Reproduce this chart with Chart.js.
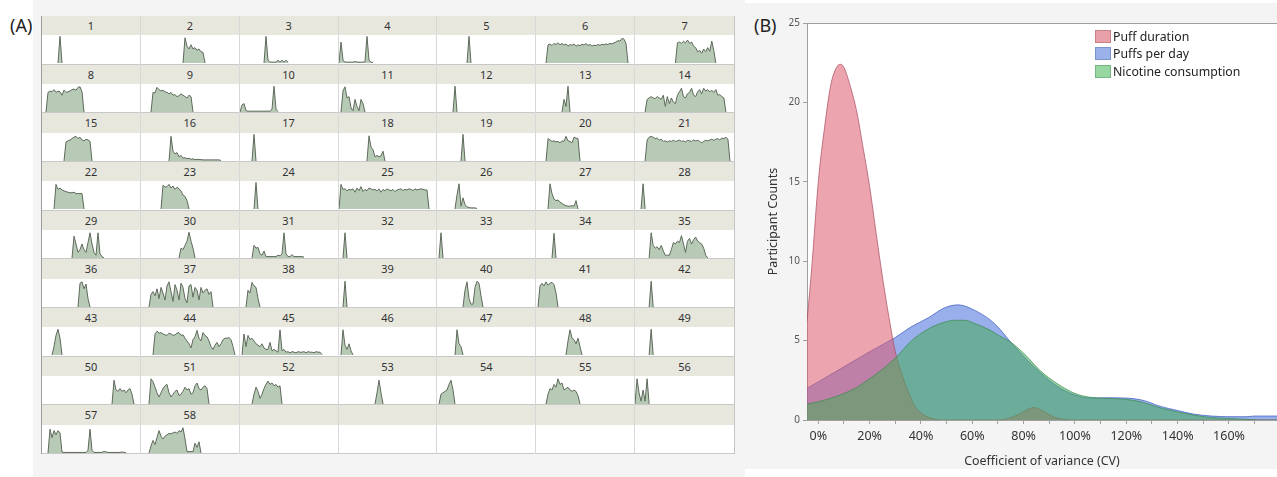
<!DOCTYPE html>
<html>
<head>
<meta charset="utf-8">
<script src="https://cdn.jsdelivr.net/npm/chart.js@4.4.1/dist/chart.umd.min.js"></script>
<style>
    body { margin: 0; width: 1277px; height: 477px; background: #fff; position: relative; overflow: hidden; font-family: "Noto Sans", sans-serif; }
    #panelA { position: absolute; left: 33px; top: 0; width: 712px; height: 477px; background: #f4f4f4; }
    #panelB { position: absolute; left: 745px; top: 3px; width: 532px; height: 466px; background: #f4f4f4; }
    .tag { position: absolute; font-size: 18px; line-height: 18px; color: #222; }
    #grid { position: absolute; left: 41px; top: 16px; width: 694px; height: 438px; display: grid;
            grid-template-columns: repeat(7, 1fr); grid-template-rows: repeat(9, 1fr);
            border-left: 1px solid #9c9c9c; border-right: 1px solid #c4c4c4; box-sizing: border-box; }
    .cell { display: flex; flex-direction: column; border-right: 1px solid #d8d8d8; min-width: 0; }
    .cell:nth-child(7n) { border-right: none; }
    .head { height: 19.3px; flex: none; background: #e7e7de; font-size: 11px; color: #333; text-align: center; line-height: 19.3px; }
    .plot { flex: 1; background: #fff; position: relative; border-bottom: 1px solid #c8c8c8; }
    .plot canvas { position: absolute; left: 0; top: 0; }
    #chartB { position: absolute; left: 745px; top: 3px; }
    #legend { position: absolute; left: 1095px; top: 28px; font-size: 12.3px; color: #222; }
    .item { height: 17.3px; display: flex; align-items: center; white-space: nowrap; }
    .sw { width: 16px; height: 13px; margin-right: 2px; box-sizing: border-box; border: 1px solid; }
</style>
</head>
<body>
<div id="panelA"></div>
<div id="panelB"></div>
<div class="tag" style="left:10px; top:16px;">(A)</div>
<div class="tag" style="left:754px; top:16px;">(B)</div>
<div id="grid"></div>
<canvas id="chartB" width="532" height="466"></canvas>
<div id="legend"></div>
<script>
// (A) per-participant sparklines: start step and values (fraction of cell height)
const participantIds = ['1','2','3','4','5','6','7','8','9','10','11','12','13','14','15','16','17','18','19','20',
    '21','22','23','24','25','26','27','28','29','30','31','32','33','34','35','36','37','38','39','40',
    '41','42','43','44','45','46','47','48','49','50','51','52','53','54','55','56','57','58'];

const sparkStart = [8, 21, 12, 0, 15, 5, 20, 2, 5, 0, 1, 8, 13, 5, 11, 14, 6, 14, 12, 5,
    5, 6, 10, 7, 0, 9, 6, 3, 15, 19, 6, 2, 1, 8, 7, 18, 4, 3, 2, 13,
    1, 7, 5, 6, 1, 1, 9, 15, 7, 35, 4, 6, 18, 1, 5, 0, 3, 4];

const sparkShape = [
    [0, 0.95, 0],
    [0, 0.9, 0.6, 0.5, 0.65, 0.5, 0.55, 0.45, 0.5, 0.4, 0.38, 0],
    [0, 0.95, 0.1, 0.03, 0.03, 0.03, 0.03, 0.1, 0.03, 0.1, 0.03, 0.1, 0.02],
    [0, 0.75, 0.1, 0.03, 0.03, 0.03, 0.03, 0.03, 0.05, 0.03, 0.03, 0.03, 0.03, 0.05, 0.95, 0.1, 0.03, 0.02],
    [0, 0.95, 0],
    [0, 0.65, 0.68, 0.62, 0.7, 0.66, 0.72, 0.65, 0.7, 0.64, 0.68, 0.6, 0.66, 0.63, 0.68, 0.6, 0.65, 0.62, 0.67, 0.64, 0.69,
        0.63, 0.66, 0.6, 0.64, 0.62, 0.66, 0.63, 0.67, 0.65, 0.68, 0.66, 0.7, 0.68, 0.72, 0.75, 0.8, 0.78, 0.88, 0.85, 0.7, 0],
    [0, 0.72, 0.75, 0.7, 0.78, 0.72, 0.82, 0.7, 0.75, 0.6, 0.55, 0.4, 0.45, 0.35, 0.5, 0.4, 0.55, 0.42, 0.78, 0.45, 0],
    [0, 0.7, 0.75, 0.72, 0.8, 0.7, 0.75, 0.72, 0.6, 0.78, 0.7, 0.72, 0.75, 0.8, 0.82, 0.78, 0.88, 0.9, 0.72, 0],
    [0, 0.7, 0.68, 0.88, 0.8, 0.75, 0.78, 0.72, 0.7, 0.65, 0.7, 0.6, 0.62, 0.55, 0.58, 0.65, 0.6, 0.55, 0.5, 0.6, 0.55, 0],
    [0, 0.25, 0.3, 0.05, 0.03, 0.03, 0.03, 0.03, 0.03, 0.03, 0.03, 0.03, 0.03, 0.03, 0.03, 0.03, 0.1, 0.92, 0.1, 0.02],
    [0, 0.75, 0.9, 0.5, 0.55, 0.15, 0.05, 0.45, 0.2, 0.05, 0.45, 0.3, 0],
    [0, 0.92, 0],
    [0, 0.45, 0.2, 0.92, 0],
    [0, 0.45, 0.5, 0.55, 0.5, 0.48, 0.55, 0.5, 0.45, 0.6, 0.2, 0.55, 0.3, 0.5, 0.35, 0.3, 0.6, 0.72, 0.85, 0.55, 0.5,
        0.65, 0.7, 0.85, 0.6, 0.55, 0.72, 0.8, 0.65, 0.85, 0.75, 0.8, 0.72, 0.78, 0.7, 0.8, 0.6, 0.62, 0.55, 0.5, 0],
    [0, 0.68, 0.72, 0.75, 0.8, 0.85, 0.88, 0.8, 0.85, 0.75, 0.72, 0.78, 0.75, 0.7, 0],
    [0, 0.88, 0.35, 0.25, 0.3, 0.15, 0.2, 0.1, 0.12, 0.08, 0.1, 0.06, 0.08, 0.05, 0.06, 0.05, 0.05, 0.04, 0.04, 0.04,
        0.04, 0.04, 0.04, 0.04, 0.04, 0.04, 0.02],
    [0, 0.95, 0],
    [0, 0.9, 0.5, 0.4, 0.15, 0.2, 0.15, 0.18, 0.35, 0],
    [0, 0.95, 0],
    [0, 0.8, 0.75, 0.7, 0.72, 0.68, 0.7, 0.65, 0.72, 0.7, 0.88, 0.72, 0.7, 0.65, 0.85, 0.82, 0.8, 0],
    [0, 0.75, 0.85, 0.88, 0.85, 0.8, 0.82, 0.75, 0.78, 0.7, 0.72, 0.68, 0.72, 0.7, 0.74, 0.7, 0.72, 0.75, 0.7, 0.72,
        0.68, 0.74, 0.72, 0.7, 0.75, 0.72, 0.74, 0.7, 0.65, 0.7, 0.74, 0.72, 0.75, 0.78, 0.74, 0.78, 0.8, 0.75, 0.82, 0.8, 0.85, 0.78, 0],
    [0, 0.88, 0.7, 0.75, 0.68, 0.65, 0.62, 0.6, 0.58, 0.58, 0.6, 0.55, 0.55, 0.55, 0.55, 0],
    [0, 0.85, 0.78, 0.8, 0.88, 0.75, 0.82, 0.7, 0.78, 0.72, 0.65, 0.5, 0.45, 0.3, 0],
    [0, 0.95, 0],
    [0, 0.88, 0.7, 0.72, 0.65, 0.7, 0.68, 0.72, 0.6, 0.75, 0.65, 0.8, 0.62, 0.7, 0.65, 0.75, 0.72, 0.68, 0.7, 0.65,
        0.72, 0.6, 0.7, 0.65, 0.72, 0.68, 0.65, 0.7, 0.62, 0.68, 0.7, 0.72, 0.66, 0.7, 0.68, 0.72, 0.7, 0.66, 0.72, 0.68,
        0.7, 0.72, 0.7, 0.68, 0.68, 0],
    [0, 0.5, 0.9, 0.1, 0.4, 0.15, 0.08, 0.05, 0.04, 0.04, 0.04, 0.02],
    [0, 0.9, 0.55, 0.35, 0.3, 0.32, 0.25, 0.2, 0.15, 0.12, 0.1, 0.1, 0.12, 0.1, 0.3, 0],
    [0, 0.9, 0],
    [0, 0.78, 0.5, 0.2, 0.3, 0.5, 0.3, 0.2, 0.55, 0.9, 0.5, 0.2, 0.1, 0.9, 0.15, 0.05, 0],
    [0, 0.35, 0.3, 0.45, 0.6, 0.92, 0.6, 0.35, 0],
    [0, 0.45, 0.35, 0.38, 0.15, 0.1, 0.25, 0.05, 0.05, 0.05, 0.05, 0.05, 0.05, 0.1, 0.08, 0.15, 0.9, 0.15, 0.05, 0.05,
        0.12, 0.05, 0.05, 0.05, 0.05, 0.05, 0.03],
    [0, 0.9, 0],
    [0, 0.9, 0],
    [0, 0.88, 0],
    [0, 0.9, 0.45, 0.35, 0.4, 0.3, 0.45, 0.25, 0.1, 0.1, 0.1, 0.3, 0.55, 0.5, 0.6, 0.55, 0.8, 0.5, 0.2, 0.6,
        0.7, 0.5, 0.65, 0.75, 0.6, 0.55, 0.5, 0.35, 0.1, 0],
    [0, 0.85, 0.9, 0.65, 0.82, 0.3, 0],
    [0, 0.45, 0.55, 0.4, 0.65, 0.3, 0.7, 0.5, 0.25, 0.75, 0.9, 0.55, 0.2, 0.8, 0.6, 0.25, 0.85, 0.7, 0.3, 0.15,
        0.75, 0.8, 0.35, 0.7, 0.6, 0.25, 0.7, 0.5, 0.6, 0.65, 0.45, 0.55, 0],
    [0, 0.6, 0.5, 0.88, 0.75, 0.7, 0.3, 0],
    [0, 0.92, 0],
    [0, 0.6, 0.9, 0.3, 0.1, 0.1, 0.7, 0.92, 0.85, 0.4, 0],
    [0, 0.75, 0.85, 0.75, 0.9, 0.78, 0.85, 0.88, 0.8, 0.5, 0],
    [0, 0.92, 0],
    [0, 0.3, 0.7, 0.92, 0.6, 0],
    [0, 0.75, 0.85, 0.78, 0.8, 0.75, 0.72, 0.7, 0.78, 0.75, 0.7, 0.72, 0.78, 0.8, 0.7, 0.72, 0.6, 0.5, 0.4, 0.25,
        0.55, 0.65, 0.88, 0.6, 0.5, 0.8, 0.7, 0.65, 0.5, 0.3, 0.2, 0.35, 0.45, 0.3, 0.4, 0.55, 0.6, 0.6, 0.62, 0.55, 0.3, 0],
    [0, 0.75, 0.3, 0.7, 0.55, 0.6, 0.5, 0.4, 0.35, 0.3, 0.4, 0.25, 0.2, 0.2, 0.45, 0.15, 0.2, 0.15, 0.1, 0.9,
        0.15, 0.2, 0.1, 0.12, 0.08, 0.12, 0.1, 0.08, 0.12, 0.1, 0.1, 0.12, 0.08, 0.12, 0.1, 0.1, 0.08, 0.12, 0.1, 0.1, 0.02],
    [0, 0.9, 0.35, 0.2, 0.4, 0.15, 0],
    [0, 0.9, 0.4, 0.3, 0],
    [0, 0.5, 0.9, 0.6, 0.55, 0.4, 0.6, 0.3, 0],
    [0, 0.92, 0],
    [0, 0.85, 0.5, 0.45, 0.55, 0.45, 0.5, 0.4, 0.5, 0.55, 0.35, 0],
    [0, 0.9, 0.8, 0.6, 0.4, 0.25, 0.4, 0.55, 0.65, 0.7, 0.4, 0.25, 0.35, 0.45, 0.5, 0.3, 0.35, 0.45, 0.6, 0.5,
        0.55, 0.35, 0.4, 0.65, 0.75, 0.55, 0.5, 0.6, 0.65, 0.55, 0],
    [0, 0.35, 0.6, 0.45, 0.2, 0.35, 0.55, 0.7, 0.82, 0.7, 0.75, 0.65, 0.7, 0.6, 0.65, 0],
    [0, 0.4, 0.85, 0.4, 0],
    [0, 0.35, 0.4, 0.45, 0.5, 0.7, 0.85, 0.5, 0],
    [0, 0.35, 0.55, 0.5, 0.7, 0.6, 0.9, 0.7, 0.75, 0.5, 0.55, 0.6, 0.5, 0.45, 0.5, 0.45, 0.3, 0],
    [0, 0.9, 0.4, 0.1, 0.5, 0.1, 0.9, 0],
    [0, 0.85, 0.55, 0.8, 0.65, 0.8, 0.72, 0.03, 0.02, 0.02, 0.02, 0.02, 0.02, 0.02, 0.02, 0.02, 0.02, 0.02, 0.02, 0.02,
        0.1, 0.85, 0.1, 0.02, 0.02, 0.02, 0.02, 0.02, 0.06, 0.04, 0.02, 0.02, 0.02, 0.02, 0.02, 0.02, 0.02, 0.04, 0.02, 0.01],
    [0, 0.25, 0.45, 0.3, 0.55, 0.8, 0.6, 0.5, 0.6, 0.65, 0.7, 0.68, 0.72, 0.75, 0.7, 0.8, 0.75, 0.9, 0.5, 0.05,
        0.05, 0.05, 0.05, 0.35, 0.2, 0.4, 0]
];

const SPARK_STEPS = 50;
const gridCells = 63;

// (B) density curves: CV (%) and participant counts
const cvPuffDuration = [-4.4, -2.5, 0, 2.5, 5, 7.5, 8.7, 10, 12.5, 15, 17.5, 20, 22.5, 25, 27.5, 30, 32.5, 35, 37.5, 40,
    42.5, 45, 48, 70, 74, 78, 81, 84, 87, 90, 93, 96, 99, 179];
const countPuffDuration = [6.2, 9.7, 15, 18.5, 21.2, 22.3, 22.4, 22.2, 21.0, 19.4, 17.1, 14.7, 11.8, 9.0, 6.5, 4.3, 2.9, 1.8, 0.9, 0.45,
    0.2, 0.06, 0, 0, 0.1, 0.35, 0.62, 0.78, 0.62, 0.33, 0.12, 0.03, 0, 0];

const cvPuffsPerDay = [-4.4, 0, 10, 20, 30, 36, 43, 49, 54.5, 61, 67, 70, 75, 80, 86.5, 93, 100, 106, 112, 120,
    127, 133, 140, 146, 153, 160, 167, 170, 179];
const countPuffsPerDay = [2.0, 2.4, 3.35, 4.3, 5.2, 5.85, 6.45, 7.05, 7.25, 6.9, 6.3, 5.85, 4.9, 4.0, 2.98, 2.13, 1.57, 1.38, 1.4, 1.38,
    1.22, 0.87, 0.6, 0.38, 0.25, 0.21, 0.21, 0.25, 0.25];

const cvNicotine = [-4.4, 0, 5, 10, 15, 20, 25, 30, 36.4, 43, 49.4, 53.2, 57, 61, 66.9, 70, 74.7, 80, 86.5, 93,
    100, 106, 112.4, 120, 126.7, 133.2, 139.7, 146.2, 152.7, 160, 167, 172, 179];
const countNicotine = [1.0, 1.15, 1.38, 1.67, 2.05, 2.6, 3.2, 3.9, 5.0, 5.75, 6.17, 6.28, 6.28, 6.07, 5.66, 5.35, 4.93, 4.2, 3.1, 2.3,
    1.67, 1.43, 1.36, 1.3, 1.1, 0.77, 0.52, 0.31, 0.16, 0.1, 0.04, 0, 0];

const seriesNames = ['Puff duration', 'Puffs per day', 'Nicotine consumption'];
const seriesFill = ['rgba(220, 90, 110, 0.55)', 'rgba(70, 110, 220, 0.55)', 'rgba(70, 170, 90, 0.55)'];
const seriesLine = ['rgba(170, 75, 95, 0.7)', 'rgba(60, 90, 190, 0.7)', 'rgba(55, 140, 75, 0.7)'];
const seriesSwatch = ['#e8a0a9', '#9bb1ea', '#98d6a2'];
const seriesSwatchEdge = ['#c9808b', '#7d93cc', '#77b683'];

function buildGrid() {
    const grid = document.getElementById('grid');
    const plots = [];
    for (let i = 0; i < gridCells; i++) {
        const cell = document.createElement('div');
        cell.className = 'cell';
        const head = document.createElement('div');
        head.className = 'head';
        head.textContent = i < participantIds.length ? participantIds[i] : '';
        const plot = document.createElement('div');
        plot.className = 'plot';
        cell.append(head, plot);
        grid.append(cell);
        plots.push(plot);
    }
    return plots;
}

function sparkData(i) {
    const data = new Array(SPARK_STEPS).fill(null);
    sparkShape[i].forEach((v, k) => { data[sparkStart[i] + k] = v; });
    return data;
}

function createSparkline(plot, i) {
    const canvas = document.createElement('canvas');
    canvas.width = plot.clientWidth;
    canvas.height = plot.clientHeight;
    plot.append(canvas);

    new Chart(canvas.getContext('2d'), {
        type: 'line',
        data: {
            labels: Array.from({ length: SPARK_STEPS }, (_, k) => k),
            datasets: [{
                data: sparkData(i),
                borderColor: '#5f6a5c',
                backgroundColor: '#b7cab6',
                borderWidth: 1,
                fill: 'origin',
                pointRadius: 0,
                tension: 0
            }]
        },
        options: {
            animation: false,
            responsive: false,
            events: [],
            layout: { padding: 0 },
            plugins: { legend: { display: false }, tooltip: { enabled: false } },
            scales: {
                x: { display: false, offset: false },
                y: { display: false, min: 0, max: 1 }
            }
        }
    });
}

const plotFrame = {
    id: 'plotFrame',
    beforeDraw(chart) {
        const { ctx, chartArea: a } = chart;
        ctx.save();
        ctx.fillStyle = '#fff';
        ctx.fillRect(a.left, a.top, a.right - a.left, a.bottom - a.top);
        ctx.restore();
    },
    afterDraw(chart) {
        const { ctx, chartArea: a } = chart;
        ctx.save();
        ctx.strokeStyle = '#a0a0a0';
        ctx.lineWidth = 1;
        ctx.beginPath();
        ctx.moveTo(a.left, a.top + 0.5);
        ctx.lineTo(a.right, a.top + 0.5);
        ctx.stroke();
        ctx.restore();
    }
};

function createDensityChart() {
    const pts = (xs, ys) => xs.map((x, k) => ({ x: x, y: ys[k] }));
    const curves = [
        pts(cvPuffDuration, countPuffDuration),
        pts(cvPuffsPerDay, countPuffsPerDay),
        pts(cvNicotine, countNicotine)
    ];
    // blue at the back, pink over it, green on top
    const drawOrder = [1, 2, 0];

    new Chart(document.getElementById('chartB').getContext('2d'), {
        type: 'line',
        data: {
            datasets: seriesNames.map((name, k) => ({
                label: name,
                data: curves[k],
                order: drawOrder[k],
                backgroundColor: seriesFill[k],
                borderColor: seriesLine[k],
                borderWidth: 1,
                fill: 'origin',
                pointRadius: 0,
                cubicInterpolationMode: 'monotone'
            }))
        },
        options: {
            animation: false,
            responsive: false,
            events: [],
            layout: { padding: { left: 0, right: 0, top: 20, bottom: 0 } },
            plugins: { legend: { display: false }, tooltip: { enabled: false } },
            scales: {
                x: {
                    type: 'linear',
                    min: -4.4,
                    max: 178.7,
                    afterFit: s => { s.height = 49; },
                    border: { color: '#a0a0a0' },
                    grid: { drawOnChartArea: false, tickLength: 4, color: '#a0a0a0' },
                    ticks: {
                        stepSize: 10,
                        includeBounds: false,
                        autoSkip: false,
                        maxRotation: 0,
                        padding: 5,
                        color: '#333',
                        font: { family: 'Noto Sans', size: 12.5 },
                        callback: v => (v % 20 === 0 && v >= 0) ? v + '%' : ''
                    },
                    title: {
                        display: true,
                        text: 'Coefficient of variance (CV)',
                        color: '#333',
                        font: { family: 'Noto Sans', size: 12.4 },
                        padding: { top: 10, bottom: 0 }
                    }
                },
                y: {
                    min: 0,
                    max: 25,
                    afterFit: s => { s.width = 62; },
                    border: { color: '#a0a0a0' },
                    grid: { drawOnChartArea: false, tickLength: 4, color: '#a0a0a0' },
                    ticks: {
                        stepSize: 5,
                        padding: 3,
                        color: '#555',
                        font: { family: 'Noto Sans', size: 10 }
                    },
                    title: {
                        display: true,
                        text: 'Participant Counts',
                        color: '#333',
                        font: { family: 'Noto Sans', size: 12.4 },
                        padding: { top: 21, bottom: 0 }
                    }
                }
            }
        },
        plugins: [plotFrame]
    });
}

function buildLegend() {
    const legend = document.getElementById('legend');
    legend.innerHTML = seriesNames.map((name, k) => `
        <div class="item"><span class="sw" style="background:${seriesSwatch[k]}; border-color:${seriesSwatchEdge[k]}"></span>${name}</div>
    `).join('');
}

const plots = buildGrid();
participantIds.forEach((id, i) => createSparkline(plots[i], i));
createDensityChart();
buildLegend();
</script>
</body>
</html>
